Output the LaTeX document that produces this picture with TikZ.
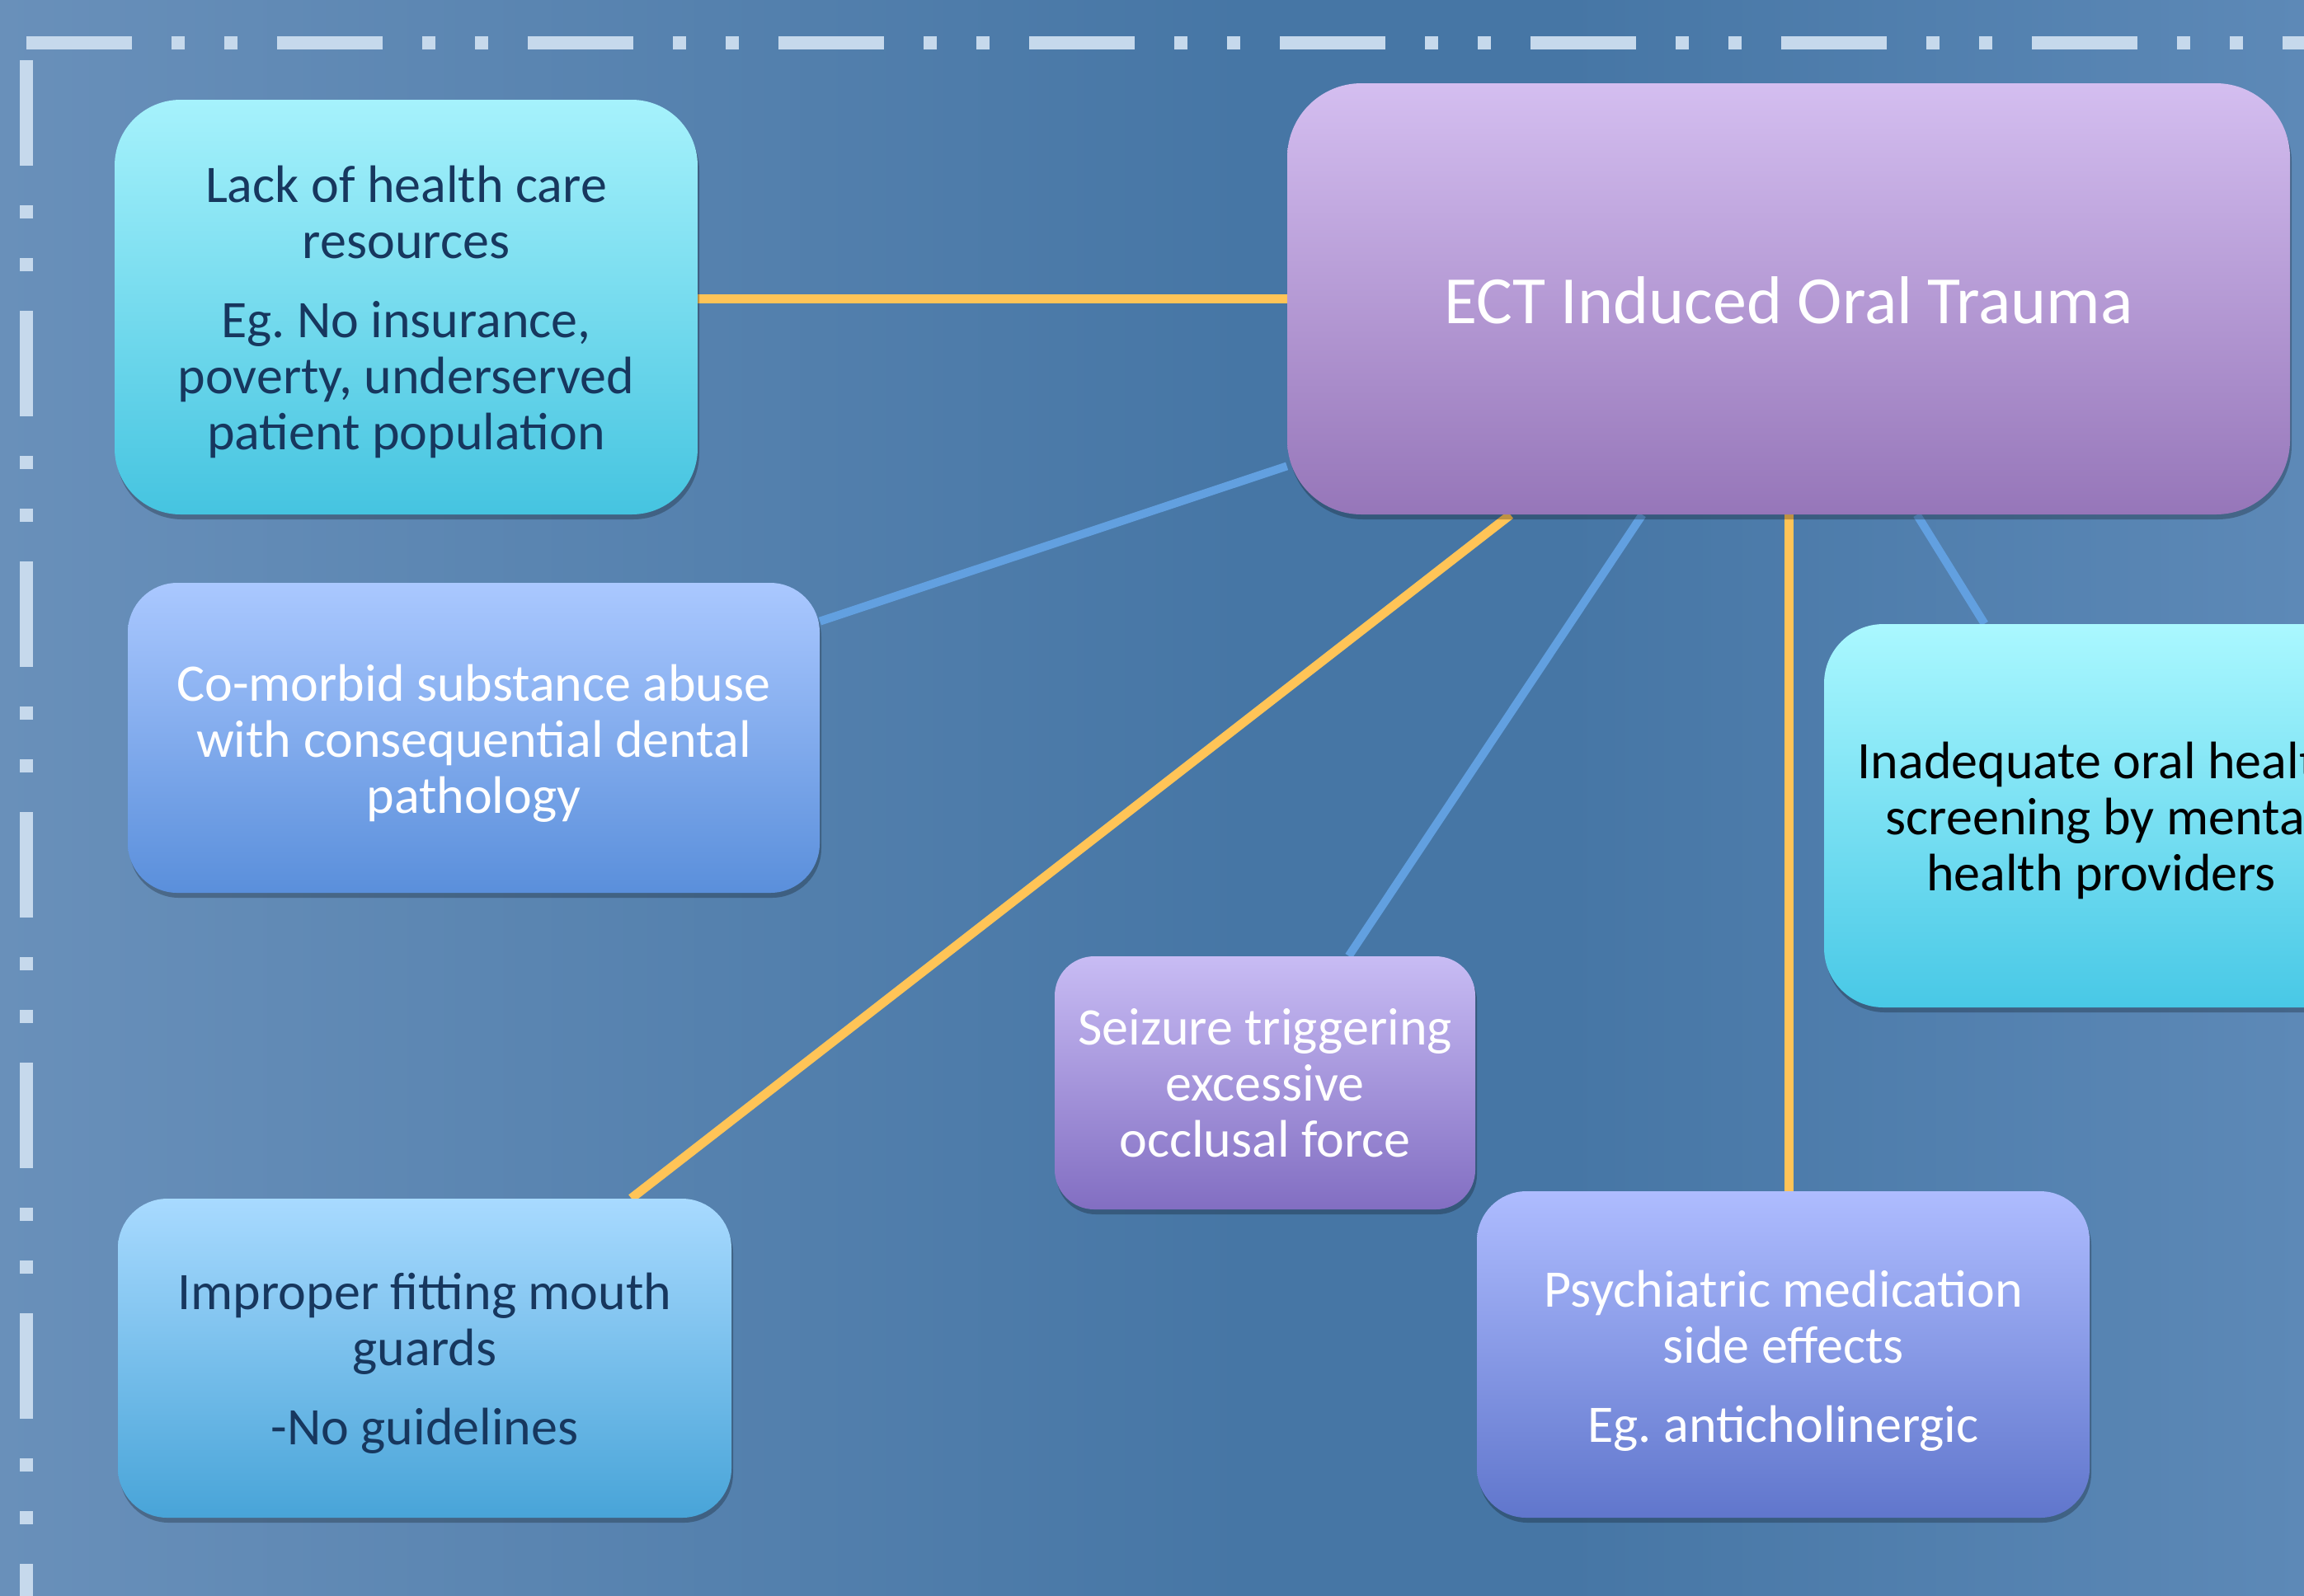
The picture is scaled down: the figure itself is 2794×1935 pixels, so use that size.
\documentclass[tikz,border=0pt]{standalone}
\usepackage{fontspec}
\setmainfont{Carlito}
\usetikzlibrary{calc,shadows}

\definecolor{bgL}{RGB}{105,144,186}
\definecolor{bgM}{RGB}{70,118,165}
\definecolor{bgR}{RGB}{93,137,183}
\definecolor{borderC}{RGB}{198,217,236}
\definecolor{orangeC}{RGB}{255,196,87}
\definecolor{blueC}{RGB}{98,160,224}
\definecolor{navyT}{RGB}{23,55,94}
\definecolor{lackT}{RGB}{166,242,252}
\definecolor{lackB}{RGB}{69,196,224}
\definecolor{ectT}{RGB}{212,190,240}
\definecolor{ectB}{RGB}{150,118,185}
\definecolor{comoT}{RGB}{170,200,255}
\definecolor{comoB}{RGB}{90,143,219}
\definecolor{impT}{RGB}{168,218,255}
\definecolor{impB}{RGB}{72,164,216}
\definecolor{seizT}{RGB}{200,188,244}
\definecolor{seizB}{RGB}{130,110,194}
\definecolor{psyT}{RGB}{174,188,255}
\definecolor{psyB}{RGB}{96,118,204}
\definecolor{inaT}{RGB}{170,248,255}
\definecolor{inaB}{RGB}{72,200,230}

\pgfdeclarehorizontalshading{bgshade}{100bp}{color(0bp)=(bgL); color(25bp)=(bgL); color(52bp)=(bgM); color(59bp)=(bgM); color(75bp)=(bgR); color(100bp)=(bgR)}

\pgfdeclarelayer{back}
\pgfdeclarelayer{lines}
\pgfsetlayers{back,lines,main}

\tikzset{
  boxbase/.style={inner sep=0pt, shading=axis, shading angle=0,
    drop shadow={shadow xshift=1pt, shadow yshift=-3pt, opacity=0.25, fill=black}},
  lbl/.style={align=center, inner sep=0pt, font=\fontsize{32}{34}\selectfont},
  orangeline/.style={draw=orangeC, line width=5.5pt},
  blueline/.style={draw=blueC, line width=5pt},
  borderline/.style={draw=borderC, line width=8pt,
    dash pattern=on 64pt off 24pt on 8pt off 24pt on 8pt off 24pt}
}

\begin{document}
\begin{tikzpicture}[x=0.5pt, y=-0.5pt]
\useasboundingbox (0,0) rectangle (2794,1935);
\clip (0,0) rectangle (2794,1935);

\begin{pgfonlayer}{back}
  \path[shading=bgshade] (0,0) rectangle (2794,1935);
\end{pgfonlayer}

% dashed frame
\draw[borderline] (32,52) -- (2900,52);
\draw[borderline] (32,73) -- (32,2100);

% boxes
\node[boxbase, rounded corners=40pt, minimum width=353.5pt, minimum height=251.5pt,
  top color=lackT, bottom color=lackB] (lack) at (492.5,372.5) {};
\node[lbl, text=navyT] (lackText) at ([yshift=-3pt]lack.center)
  {Lack of health care\\resources\\[14pt]Eg.\ No insurance,\\poverty, underserved\\patient population};

\node[boxbase, rounded corners=45pt, minimum width=608pt, minimum height=261.5pt,
  top color=ectT, bottom color=ectB] (ect) at (2169,362.5) {};
\node[lbl, text=white, font=\fontsize{41}{49}\selectfont] (ectText) at ([yshift=-1pt]ect.center)
  {ECT Induced Oral Trauma};

\node[boxbase, rounded corners=30pt, minimum width=419.5pt, minimum height=188pt,
  top color=comoT, bottom color=comoB] (como) at (574.5,895) {};
\node[lbl, text=white] (comoText) at ([yshift=-3.5pt]como.center)
  {Co-morbid substance abuse\\with consequential dental\\pathology};

\node[boxbase, rounded corners=30pt, minimum width=372pt, minimum height=193.5pt,
  top color=impT, bottom color=impB] (imp) at (515,1647.5) {};
\node[lbl, text=navyT] (impText) at ([yshift=-3pt]imp.center)
  {Improper fitting mouth\\guards\\[14pt]-No guidelines};

\node[boxbase, rounded corners=24pt, minimum width=255pt, minimum height=153.5pt,
  top color=seizT, bottom color=seizB] (seiz) at (1534,1313.5) {};
\node[lbl, text=white] (seizText) at (seiz.center)
  {Seizure triggering\\excessive\\occlusal force};

\node[boxbase, rounded corners=30pt, minimum width=371.5pt, minimum height=198pt,
  top color=psyT, bottom color=psyB] (psy) at (2162.5,1643) {};
\node[lbl, text=white] (psyText) at ([yshift=-4pt]psy.center)
  {Psychiatric medication\\side effects\\[14pt]Eg.\ anticholinergic};

\node[boxbase, rounded corners=36pt, minimum width=336pt, minimum height=232.5pt,
  top color=inaT, bottom color=inaB] (ina) at (2548,989.5) {};
\node[lbl, text=black] (inaText) at ([yshift=-3pt]ina.center)
  {Inadequate oral health\\screening by mental\\health providers};

% connectors
\begin{pgfonlayer}{lines}
  \draw[orangeline] (lack.east |- ect.west) -- (ect.west);
  \draw[blueline] ([yshift=-23.5pt]como.north east) -- ([yshift=29.5pt]ect.south west);
  \draw[orangeline] ([xshift=135.5pt]ect.south west) -- ([xshift=311.5pt]imp.north west);
  \draw[blueline] ([xshift=215.5pt]ect.south west) -- ([xshift=178.5pt]seiz.north west);
  \draw[orangeline] (ect.south) -- (ect.south |- psy.north);
  \draw[blueline] ([xshift=382pt]ect.south west) -- ([xshift=97.5pt]ina.north west);
\end{pgfonlayer}
\end{tikzpicture}
\end{document}
